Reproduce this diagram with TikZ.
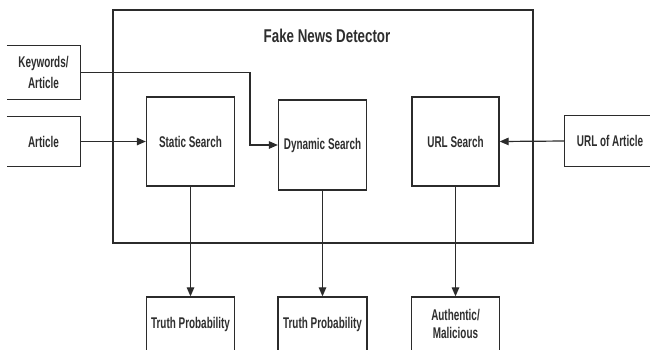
\documentclass[tikz,border=0pt]{standalone}
\usepackage{fontspec}
\setmainfont{Liberation Sans}[FakeStretch=0.64]
\newfontfamily\titlefam{Liberation Sans}[FakeStretch=0.72]
\usetikzlibrary{arrows.meta}
\definecolor{linec}{HTML}{2B2B2B}
\definecolor{textc}{HTML}{2E2E2E}
\newcommand{\lblfont}{\bfseries\fontsize{15.5}{21}\selectfont}
\tikzset{
  box/.style={draw=linec, line width=1.3pt, fill=white, minimum width=88pt,
    minimum height=89pt, inner sep=0pt, font=\lblfont, text=textc, align=center},
  openbox/.style={draw=none, minimum width=73pt, inner sep=0pt,
    font=\lblfont, text=textc, align=center},
  outbox/.style={box, minimum height=54pt},
  arr/.style={draw=linec, line width=1.2pt, -{Triangle[length=9pt,width=7.5pt]}},
  sides/.style={draw=linec, line width=1.3pt}
}
\begin{document}
\begin{tikzpicture}[x=1pt,y=-1pt]
\useasboundingbox (0,0) rectangle (650,349);
\clip (0,0) rectangle (650,349);
\fill[white] (0,0) rectangle (650,349);
% main frame
\node[draw=linec, line width=1.3pt, minimum width=420pt, minimum height=233pt, inner sep=0pt] (frame) at (323,126.5) {};
\node[font=\titlefam\bfseries\fontsize{18.5}{20}\selectfont, text=textc] (title) at (327,36) {Fake News Detector};
% inner boxes
\node[box] (static) at (190.5,141.5) {Static Search};
\node[box, minimum height=90pt] (dyn) at (322.5,145) {Dynamic Search};
\node[box, minimum width=87pt] (url) at (455.5,141.5) {URL Search};
% inputs
\node[openbox, minimum height=53pt] (kw) at (43.5,72.5) {Keywords/\\Article};
\draw[sides] (kw.north west) -- (kw.north east) -- (kw.south east) -- (kw.south west);
\node[openbox, minimum height=49pt] (art) at (43.5,141.5) {Article};
\draw[sides] (art.north west) -- (art.north east) -- (art.south east) -- (art.south west);
\node[openbox, minimum width=90pt, minimum height=50pt] (urlart) at (610,141) {URL of Article};
\draw[sides] (urlart.north east) -- (urlart.north west) -- (urlart.south west) -- (urlart.south east);
% outputs
\node[outbox] (tp1) at (190.5,324) {Truth Probability};
\node[outbox, minimum width=89pt] (tp2) at (322.5,324) {Truth Probability};
\node[outbox, font=\bfseries\fontsize{15.5}{18}\selectfont] (auth) at (455.5,324) {Authentic/\\Malicious};
% connectors
\coordinate (bend) at (250,145);
\draw[arr] (art.east) -- (static.west);
\draw[arr] (kw.east) -| (bend) -- (dyn.west);
\draw[arr] (urlart.west) -- (url.east);
\draw[arr] (static.south) -- (tp1.north);
\draw[arr] (dyn.south) -- (tp2.north);
\draw[arr] (url.south) -- (auth.north);
\end{tikzpicture}
\end{document}
